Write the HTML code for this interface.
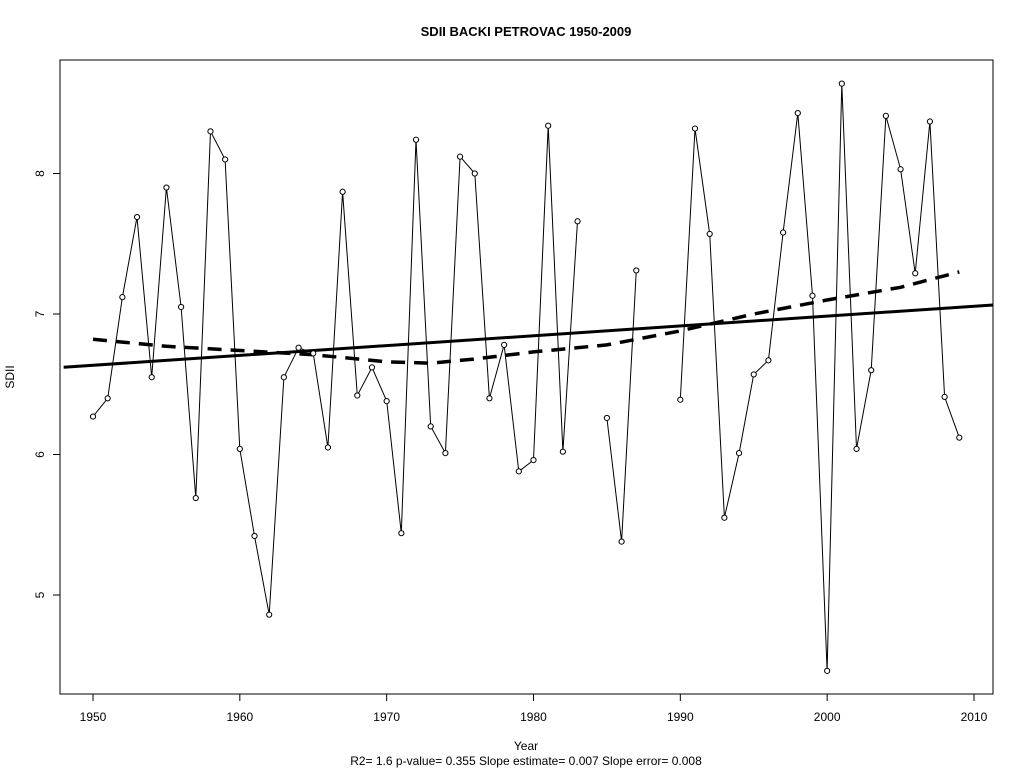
<!DOCTYPE html>
<html><head><meta charset="utf-8"><style>
body{margin:0;background:#fff;}
svg{display:block;font-family:"Liberation Sans",Arial,sans-serif;}
</style></head><body>
<svg id="chart" width="1024" height="768" viewBox="0 0 1024 768">
<text x="526" y="36" text-anchor="middle" font-size="13" font-weight="bold">SDII   BACKI PETROVAC 1950-2009</text>
<rect x="60" y="60" width="933" height="634" fill="none" stroke="#000" stroke-width="1"/>
<text x="526" y="750" text-anchor="middle" font-size="12">Year</text>
<text x="526" y="765" text-anchor="middle" font-size="12">R2= 1.6  p-value= 0.355  Slope estimate= 0.007  Slope error= 0.008</text>
<text transform="translate(14,377) rotate(-90)" text-anchor="middle" font-size="12">SDII</text>
<g id="axes"></g><g id="marks"></g>
</svg>
<script>
const years=[1950,1951,1952,1953,1954,1955,1956,1957,1958,1959,1960,1961,1962,1963,1964,1965,1966,1967,1968,1969,1970,1971,1972,1973,1974,1975,1976,1977,1978,1979,1980,1981,1982,1983,1984,1985,1986,1987,1988,1989,1990,1991,1992,1993,1994,1995,1996,1997,1998,1999,2000,2001,2002,2003,2004,2005,2006,2007,2008,2009];
const sdii=[6.27,6.40,7.12,7.69,6.55,7.90,7.05,5.69,8.30,8.10,6.04,5.42,4.86,6.55,6.76,6.72,6.05,7.87,6.42,6.62,6.38,5.44,8.24,6.20,6.01,8.12,8.00,6.40,6.78,5.88,5.96,8.34,6.02,7.66,null,6.26,5.38,7.31,null,null,6.39,8.32,7.57,5.55,6.01,6.57,6.67,7.58,8.43,7.13,4.46,8.64,6.04,6.60,8.41,8.03,7.29,8.37,6.41,6.12];
const smoothYears=[1950,1955,1960,1965,1970,1973,1976,1980,1985,1990,1995,2000,2005,2009];
const smoothVals=[6.82,6.77,6.74,6.71,6.66,6.65,6.68,6.73,6.78,6.88,7.00,7.10,7.19,7.30];
const xTicks=[1950,1960,1970,1980,1990,2000,2010];
const yTicks=[5,6,7,8];
const trendIntercept1950=6.635, trendSlope=0.007;
const NS="http://www.w3.org/2000/svg";
const X=v=>93+(v-1950)*14.683;
const Y=v=>314-(v-7)*140.5;
function mk(t,p,a){const e=document.createElementNS(NS,t);for(const k in a)e.setAttribute(k,a[k]);p.appendChild(e);return e;}
const ax=document.getElementById('axes'), mg=document.getElementById('marks');
xTicks.forEach(t=>{const l=mk('line',ax,{x1:X(t),x2:X(t),y1:694,y2:701,stroke:'#000'});


const tx=mk('text',ax,{x:X(t),y:721,'text-anchor':'middle','font-size':'12'});tx.textContent=t;

});
yTicks.forEach(t=>{const l=mk('line',ax,{x1:53,x2:60,y1:Y(t),y2:Y(t),stroke:'#000'});


const tx=mk('text',ax,{x:0,y:0,'text-anchor':'middle','font-size':'12',transform:`translate(44,${Y(t)}) rotate(-90)`});tx.textContent=t;

});
// series line segments
let d='';let pen=false;
years.forEach((yr,i)=>{const v=sdii[i];if(v==null){pen=false;return;}d+=(pen?'L':'M')+X(yr).toFixed(1)+','+Y(v).toFixed(1);pen=true;});
const sl=mk('path',mg,{d:d,fill:'none',stroke:'#000','stroke-width':1});


// trend line
const x0=1948,x1=2011.3;
const tl=mk('line',mg,{x1:X(x0),y1:Y(trendIntercept1950+trendSlope*(x0-1950)),x2:X(x1),y2:Y(trendIntercept1950+trendSlope*(x1-1950)),stroke:'#000','stroke-width':3});


let sd='';smoothYears.forEach((yr,i)=>{sd+=(i?'L':'M')+X(yr).toFixed(1)+','+Y(smoothVals[i]).toFixed(1);});
const sm=mk('path',mg,{d:sd,fill:'none',stroke:'#000','stroke-width':3.5,'stroke-dasharray':'14,9'});


years.forEach((yr,i)=>{const v=sdii[i];if(v==null)return;
const c=mk('circle',mg,{cx:X(yr),cy:Y(v),r:2.6,fill:'#fff',stroke:'#000','stroke-width':1});

});
</script>
</body></html>
